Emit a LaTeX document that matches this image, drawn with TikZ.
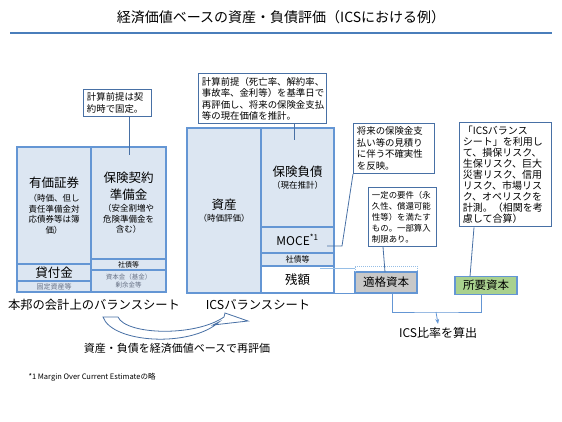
\documentclass[tikz,border=0pt]{standalone}
\usepackage{fontspec}
\setmainfont{Noto Sans CJK JP}
\usetikzlibrary{positioning, arrows.meta, calc}

\definecolor{bsfill}{RGB}{220,230,242}
\definecolor{bsedge}{RGB}{100,150,212}
\definecolor{noteedge}{RGB}{72,112,165}
\definecolor{paleedge}{RGB}{150,190,230}
\definecolor{rulecol}{RGB}{74,126,187}
\definecolor{qualfill}{RGB}{200,200,200}
\definecolor{reqfill}{RGB}{169,209,142}
\definecolor{subtext}{RGB}{105,115,135}

\newcommand{\bigtxt}{\fontsize{12.5}{14.5}\selectfont}
\newcommand{\smalltxt}{\fontsize{8.5}{10.5}\selectfont}
\newcommand{\tinytxt}{\fontsize{7}{9}\selectfont}

\begin{document}
\begin{tikzpicture}[
    x=1pt, y=-1pt,
    cell/.style={rectangle, draw=bsedge, fill=bsfill, line width=1.6pt, outer sep=0pt, inner sep=1pt, align=center},
    note/.style={rectangle, draw=noteedge, fill=white, line width=0.9pt, inner sep=3.5pt, align=left, anchor=north west, text width=#1, font=\fontsize{9.4}{11.5}\selectfont},
    capbox/.style={rectangle, draw=bsedge, line width=1.6pt, outer sep=0pt, minimum width=62pt, font=\fontsize{11.5}{13}\selectfont},
    sheetlabel/.style={font=\fontsize{12.3}{14}\selectfont},
    link/.style={draw=noteedge, line width=0.8pt},
    bracket/.style={draw=bsedge, line width=0.8pt},
]
\useasboundingbox (0,0) rectangle (562,421);

%% NODES
    % title
    \node[font=\fontsize{14}{16}\selectfont] (title) at (281,17) {経済価値ベースの資産・負債評価（ICSにおける例）};
    \draw[rulecol, line width=1.8pt] (10,33) -- (552,33);

    % local balance sheet
    \node[cell, minimum width=74pt, minimum height=117pt, font=\smalltxt] (secu) at (54,205.5)
        {{\bigtxt 有価証券}\\[4pt]（時価、但し\\責任準備金対\\応債券等は簿\\価）};
    \node[cell, minimum width=74pt, minimum height=17pt, below=0pt of secu, font=\bigtxt] (loan) {貸付金};
    \node[cell, minimum width=74pt, minimum height=11pt, below=0pt of loan, font=\tinytxt, text=subtext] (fixed) {固定資産等};

    \node[cell, minimum width=75pt, minimum height=112pt, anchor=north west, font=\smalltxt] (resv) at (secu.north east)
        {{\bigtxt 保険契約}\\[4pt]{\bigtxt 準備金}\\[2pt]（安全割増や\\危険準備金を\\含む）};
    \node[cell, minimum width=75pt, minimum height=11pt, below=0pt of resv, font=\tinytxt] (bond) {社債等};
    \node[cell, minimum width=75pt, minimum height=22pt, below=0pt of bond, font=\fontsize{6.5}{8.5}\selectfont, text=subtext] (equity) {資本金（基金）\\剰余金等};

    \node[sheetlabel] (jplabel) at (94,305) {本邦の会計上のバランスシート};

    % ICS balance sheet
    \node[cell, minimum width=74pt, minimum height=165pt, font=\smalltxt] (asset) at (224,210.5)
        {{\bigtxt 資産}\\[2pt]（時価評価）};
    \node[cell, minimum width=73pt, minimum height=99pt, anchor=north west, font=\smalltxt] (liab) at (asset.north east)
        {{\bigtxt 保険負債}\\[2pt]（現在推計）};
    \node[cell, minimum width=73pt, minimum height=26pt, below=0pt of liab, font=\fontsize{12}{14}\selectfont] (moce) {MOCE\textsuperscript{*1}};
    \node[cell, minimum width=73pt, minimum height=13pt, below=0pt of moce, font=\fontsize{8}{10}\selectfont] (ibond) {社債等};
    \node[cell, fill=white, minimum width=73pt, minimum height=27pt, below=0pt of ibond, font=\bigtxt] (surplus) {残額};

    \node[sheetlabel] (icslabel) at (258,305) {ICSバランスシート};

    % notes
    \node[note=61pt] (fixnote) at (83,89) {計算前提は契\\約時で固定。};
    \node[note=121pt] (valnote) at (198,73) {計算前提（死亡率、解約率、\\事故率、金利等）を基準日で\\再評価し、将来の保険金支払\\等の現在価値を推計。};
    \node[note=74pt] (marginnote) at (353,123) {将来の保険金支\\払い等の見積り\\に伴う不確実性\\を反映。};
    \node[note=61pt, font=\fontsize{8.4}{11}\selectfont] (capnote) at (368,187) {一定の要件（永\\久性、償還可能\\性等）を満たす\\もの。一部算入\\制限あり。};
    \node[note=85pt, font=\fontsize{10}{11}\selectfont] (reqnote) at (459,122) {「ICSバランス\\シート」を利用し\\て、損保リスク、\\生保リスク、巨大\\災害リスク、信用\\リスク、市場リス\\ク、オペリスクを\\計測。（相関を考\\慮して合算）};

    % capital
    \node[capbox, fill=qualfill, minimum height=21pt] (qual) at (386,282.5) {適格資本};
    \node[capbox, fill=reqfill, minimum height=18pt] (req) at (486,285.5) {所要資本};

    \node[font=\fontsize{12}{14}\selectfont] (ratio) at (438,333) {ICS比率を算出};

    % revaluation
    \node[font=\fontsize{11}{13}\selectfont] (revalue) at (177,348) {資産・負債を経済価値ベースで再評価};

    % footnote
    \node[anchor=west, font=\fontsize{7.5}{9}\selectfont] (fnote) at (25,377) {*1 Margin Over Current Estimateの略};

%% CONNECTIONS
    \coordinate (fixend) at (129,155);
    \coordinate (liabend) at (294,140);
    \coordinate (mocend) at (327,246);
    \coordinate (join) at (436,312);

    % notes -> boxes
    \draw[link] (fixnote.south -| fixend) -- (fixend);
    \draw[link] (valnote.south -| liabend) -- (liabend);
    \draw[link] (marginnote.south west) -- ($(mocend)+(15,0)$) -- (mocend);
    \draw[link] ($(capnote.south west)+(15,0)$) -- ($(qual.north west)+(30,0)$);
    \draw[link] ($(reqnote.south west)+(15,0)$) -- ($(req.north west)+(15,0)$);

    % surplus -> eligible capital
    \draw[paleedge, line width=1pt] ($(surplus.north east)+(-14,2)$) -- ($(qual.north west)+(0,-4)$);
    \draw[bsedge, line width=1pt] (surplus.south east) -- (qual.south west);
    \draw[paleedge, densely dotted, line width=1pt] (qual.north west) -- ++(0,-6) -| (qual.north east);

    % capital -> ratio
    \draw[bracket] ($(qual.south)+(6,0)$) |- (join) -| ($(req.south)+(-5,0)$);
    \draw[bracket, -{Stealth[length=5pt, width=4pt]}] (join) -- (ratio.north);

    % curved arrow
    \draw[noteedge, fill=white, line width=0.8pt]
        (103,317) .. controls (112,343) and (190,348) .. (219,322)
        -- (213,325) -- (248,321) -- (225,313) -- (224,317)
        .. controls (195,337) and (126,335) .. (118,317) -- cycle;

\end{tikzpicture}
\end{document}
